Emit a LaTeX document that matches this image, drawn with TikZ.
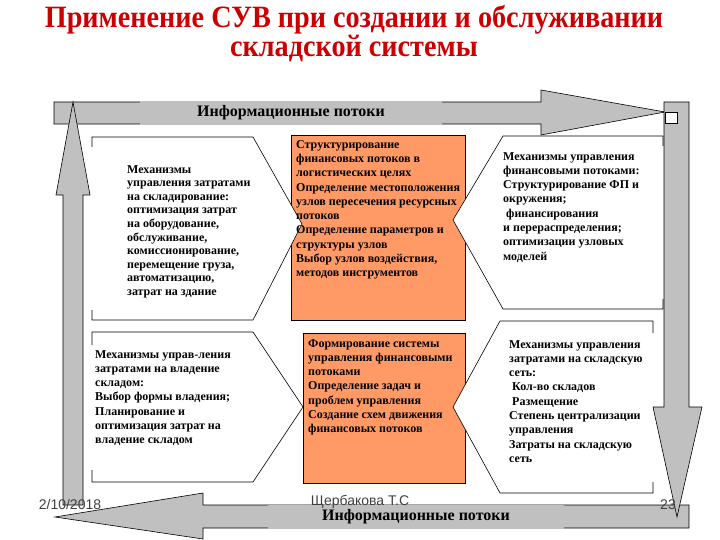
\documentclass[tikz,border=0pt]{standalone}
\usepackage{fontspec}
\setmainfont{Liberation Serif}
\newfontfamily\titlefont[FakeStretch=0.91]{Liberation Serif}
\newfontfamily\footfont{Liberation Sans}
\definecolor{titlered}{RGB}{204,0,0}
\definecolor{boxorange}{RGB}{255,153,102}
\definecolor{barfill}{RGB}{192,192,192}
\tikzset{
  flowbar/.style={fill=barfill, draw=black, line width=0.6pt},
  boxline/.style={draw=black, line width=0.6pt},
  boxtext/.style={anchor=north west, inner sep=0pt, align=left,
    execute at begin node=\strut, font=\bfseries\fontsize{12}{14.3}\selectfont},
  flowlabel/.style={fill=barfill, inner sep=0pt, minimum height=23.6pt,
    font=\bfseries\fontsize{16}{16}\selectfont},
  foottext/.style={text=black!75, inner sep=0pt, font=\footfont\fontsize{14}{14}\selectfont}
}
\begin{document}
\begin{tikzpicture}[x=1pt, y=-1pt]
  \useasboundingbox (0,0) rectangle (720,540);

  % Title
  \node[text=titlered, align=center, font=\titlefont\bfseries\fontsize{31}{29}\selectfont] (title) at (354,34)
    {Применение СУВ при создании и обслуживании\\складской системы};

  % Centre boxes
  \draw[boxline, fill=boxorange] (291,135) rectangle (465,320);
  \draw[boxline, fill=boxorange] (303,333) rectangle (465,483);

  % Side boxes (open on the outer side)
  \fill[white] (92,137) -- (253,137) -- (302,224) -- (253,320) -- (92,320) -- cycle;
  \draw[boxline] (92,147) -- (92,137) -- (253,137) -- (302,224) -- (253,320) -- (92,320) -- (92,310);
  \fill[white] (92,332) -- (253,332) -- (303,407) -- (253,482) -- (92,482) -- cycle;
  \draw[boxline] (92,345) -- (92,332) -- (253,332) -- (303,407) -- (253,482) -- (92,482) -- (92,470);
  \fill[white] (663,136) -- (503,136) -- (453,220) -- (503,309) -- (663,309) -- cycle;
  \draw[boxline] (663,146) -- (663,136) -- (503,136) -- (453,220) -- (503,309) -- (663,309) -- (663,299);
  \fill[white] (653,321) -- (500,321) -- (453,407) -- (500,493) -- (653,493) -- cycle;
  \draw[boxline] (653,333) -- (653,321) -- (500,321) -- (453,407) -- (500,493) -- (653,493) -- (653,482);

  % Information flow loop
  \draw[flowbar] (54,102) -- (541,102) -- (541,90) -- (665,112) -- (541,135) -- (541,124) -- (54,124) -- cycle;
  \draw[flowbar] (63,505) -- (63,195) -- (56,195) -- (73,102) -- (90,195) -- (83,195) -- (83,505) -- cycle;
  \draw[flowbar] (689,505) -- (203,505) -- (203,493) -- (55,517) -- (203,539) -- (203,528) -- (689,528) -- cycle;
  \draw[flowbar] (664,102) -- (689,102) -- (689,407) -- (702,407) -- (677,517) -- (653,407) -- (664,407) -- cycle;
  \draw[fill=white, line width=0.4pt] (665,112) rectangle (677,123);
  \node[flowlabel, minimum width=302pt] (topflow) at (291,113) {Информационные потоки};
  \node[flowlabel, minimum width=296pt] (bottomflow) at (416,517) {Информационные потоки};

  % Box texts
  \node[boxtext, font=\bfseries\fontsize{12}{13.6}\selectfont] (storecost) at (127,165)
    {Механизмы\\управления затратами\\на складирование:\\оптимизация затрат\\на оборудование,\\обслуживание,\\комиссионирование,\\перемещение груза,\\автоматизацию,\\затрат на здание};
  \node[boxtext] (finstruct) at (296,140)
    {Структурирование\\финансовых потоков в\\логистических целях\\Определение местоположения\\узлов пересечения ресурсных\\потоков\\Определение параметров  и\\структуры узлов\\Выбор узлов воздействия,\\методов инструментов};
  \node[boxtext] (finflow) at (503,152)
    {Механизмы управления\\финансовыми потоками:\\Структурирование ФП и\\окружения;\\\hspace{3pt}финансирования\\и перераспределения;\\оптимизации узловых\\моделей};
  \node[boxtext] (owncost) at (95,350)
    {Механизмы управ-ления\\затратами на владение\\складом:\\Выбор формы владения;\\Планирование и\\оптимизация затрат на\\владение складом};
  \node[boxtext] (finsystem) at (308,339)
    {Формирование системы\\управления финансовыми\\потоками\\Определение задач и\\проблем управления\\Создание схем движения\\финансовых потоков};
  \node[boxtext] (netcost) at (509,340)
    {Механизмы управления\\затратами на складскую\\сеть:\\\hspace{3pt}Кол-во складов\\\hspace{3pt}Размещение\\Степень централизации\\управления\\Затраты на складскую\\сеть};

  % Footer
  \node[foottext] (date) at (70,504) {2/10/2018};
  \node[foottext] (author) at (360,502) {Щербакова Т.С};
  \node[foottext] (page) at (668,505) {23};
\end{tikzpicture}
\end{document}
